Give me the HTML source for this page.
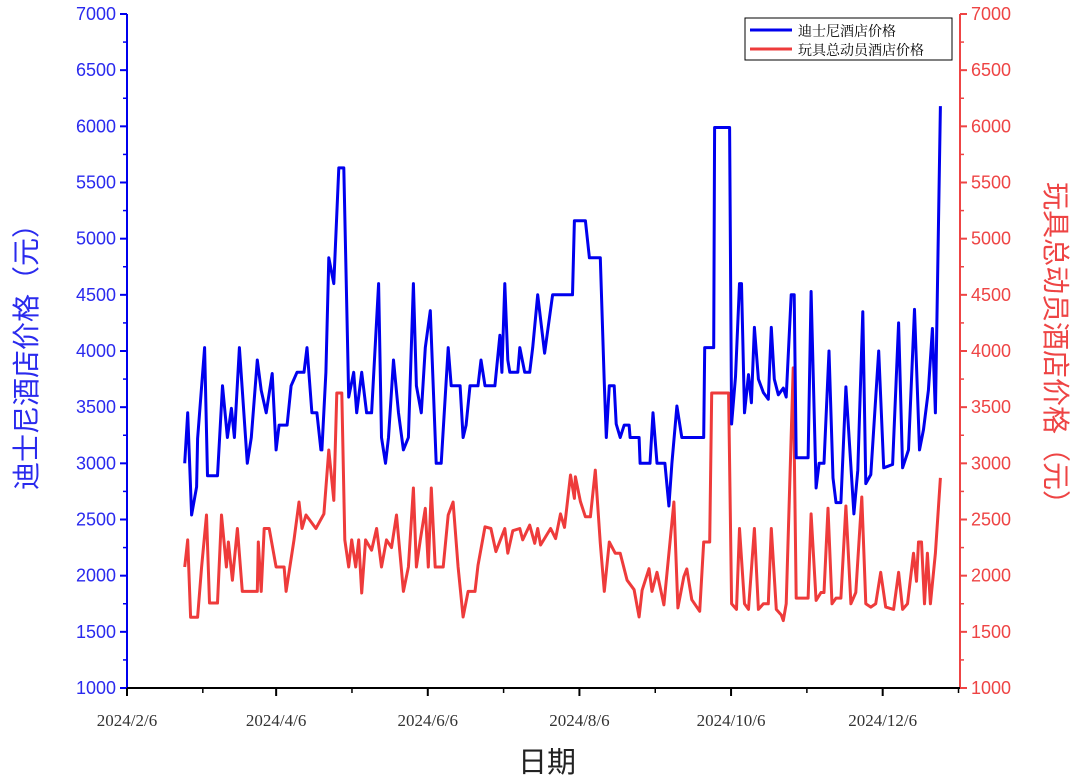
<!DOCTYPE html>
<html><head><meta charset="utf-8"><style>
html,body{margin:0;padding:0;background:#fff;width:1080px;height:781px;overflow:hidden}
svg{display:block}
</style></head><body>
<svg id="chart" width="1080" height="781" xmlns="http://www.w3.org/2000/svg" font-family="'Liberation Serif','Noto Serif CJK SC',serif">
<g id="axes"></g>
<g id="series"></g>
<g>
<rect x="745" y="18" width="207" height="42" fill="#fff" stroke="#000" stroke-width="1"/>
<line x1="750" y1="30" x2="792" y2="30" stroke="#0000ee" stroke-width="3"/>
<text x="798" y="36" font-size="14" fill="#000">迪士尼酒店价格</text>
<line x1="750" y1="49" x2="792" y2="49" stroke="#ee3b3b" stroke-width="3"/>
<text x="798" y="55" font-size="14" fill="#000">玩具总动员酒店价格</text>
</g>
<text x="547" y="772" font-size="29" text-anchor="middle" font-family="'Liberation Sans','Noto Sans CJK SC',sans-serif" fill="#222">日期</text>
<text transform="translate(36,350) rotate(-90)" font-size="28" text-anchor="middle" font-family="'Liberation Sans','Noto Sans CJK SC',sans-serif" fill="#2a2aee">迪士尼酒店价格（元）</text>
<text transform="translate(1046,350) rotate(90)" font-size="28" text-anchor="middle" font-family="'Liberation Sans','Noto Sans CJK SC',sans-serif" fill="#ee4444">玩具总动员酒店价格（元）</text>
</svg>
<script>
const yTicks=[1000,1500,2000,2500,3000,3500,4000,4500,5000,5500,6000,6500,7000];
const xTickLabels=["2024/2/6","2024/4/6","2024/6/6","2024/8/6","2024/10/6","2024/12/6"];
const xTickDays=[0,60,121,182,243,304];
const blueDays=[23.2,24.4,26,28,28.4,31.2,32.4,36.4,38.4,40.4,42,43.2,45.2,48.4,50,52.4,54,56,58.4,60,61.2,64.4,66,68.4,71.2,72.4,74.4,76.4,78,78.4,80,81.2,83.2,85.2,87.2,89.2,91.2,92.4,94.4,96.4,98.4,101.2,102.4,104,105.2,107.2,109.2,111.2,113.2,115.2,116.4,118.4,120,122,124.4,126.4,129.2,130.4,134,135.2,136.4,138,141.2,142.4,144,148,150,150.8,152,153.2,154,157.2,158,160,162,163.2,165.2,168,171.2,179.2,180,184.4,186,190.4,192,192.8,194,196,196.8,198.4,200,202,202.4,206,206.4,210.4,211.6,213.2,216.4,218,219.2,221.2,223.2,232,232.4,236,236.4,242.4,243.2,244.8,246.4,247.2,248.4,250,251.2,252.4,254,256,258,259.2,260.4,262,264,265.2,267.2,268.4,269.2,274,275.2,277.2,278.4,280.4,282.4,284,285.2,287.2,289.2,292.4,294,296,297.2,299.2,302.4,304.4,308,310.4,312,314.4,316.8,318.8,320.4,322.4,324,325.2,327.2];
const blueVals=[3000,3450,2540,2790,3220,4030,2890,2890,3690,3230,3490,3230,4030,3000,3230,3920,3650,3450,3800,3120,3340,3340,3690,3810,3810,4030,3450,3450,3120,3120,3810,4830,4600,5630,5630,3590,3810,3450,3810,3450,3450,4600,3230,3000,3230,3920,3450,3120,3230,4600,3690,3450,4030,4360,3000,3000,4030,3690,3690,3230,3340,3690,3690,3920,3690,3690,4140,3810,4600,3920,3810,3810,4030,3810,3810,4030,4500,3980,4500,4500,5160,5160,4830,4830,3710,3230,3690,3690,3350,3230,3340,3340,3230,3230,3000,3000,3450,3000,3000,2620,3000,3510,3230,3230,4030,4030,5990,5990,3350,3770,4600,4600,3450,3790,3540,4210,3750,3630,3570,4210,3750,3610,3670,3590,4500,4500,3050,3050,4530,2780,3000,3000,4000,2870,2650,2650,3680,2550,2940,4350,2820,2900,4000,2960,2990,4250,2960,3120,4370,3120,3300,3650,4200,3450,6180];
const redDays=[23.2,24.4,25.6,28.4,30,32,33.2,36.4,38,40,40.8,42.4,44.4,46.4,52.4,52.8,54,55.2,57.2,60,63.2,64,67.2,69.2,70.4,72,76,79.2,81.2,83.2,84.4,86.4,87.6,89.2,90.4,92,93.2,94.4,96,98.4,100.4,102.4,104.4,106.4,108.4,111.2,113.2,115.2,116.4,118,120,121.2,122.4,124,127.2,129.2,131.2,133.2,135.2,137.2,140,141.2,144,146.4,148.4,152,153.2,155.2,158,159.2,162,164,165.2,166.4,170.4,172.4,174.4,176,178.4,180,180.4,182.4,184.4,186.4,188.4,190.4,192,194,196.4,198.4,201.2,204,206,207.2,210,211.2,213.2,216,220,221.6,224,225.2,227.2,230.4,232,234.4,235.2,242,243.2,245.2,246.4,248.4,250,252.4,254,256,258,259.2,261.2,263.2,264,265.2,268,269.2,274,275.2,277.2,279.2,280.4,282,283.6,285.2,287.2,289.2,291.2,293.2,295.6,297.2,299.2,301.2,303.2,305.2,308.4,310.4,312,314,316.4,317.6,318.4,319.6,320.8,322,323.2,325.2,327.2];
const redVals=[2077,2318,1630,1630,2077,2540,1757,1757,2540,2077,2300,1960,2420,1860,1860,2300,1860,2420,2420,2077,2077,1860,2318,2656,2420,2540,2420,2550,3119,2670,3626,3626,2318,2077,2318,2077,2318,1846,2318,2227,2420,2077,2318,2250,2540,1860,2077,2780,2077,2318,2600,2077,2780,2077,2077,2540,2656,2077,1632,1860,1860,2092,2435,2420,2214,2420,2200,2400,2420,2318,2450,2288,2420,2273,2420,2330,2550,2430,2896,2688,2880,2660,2524,2524,2940,2288,1860,2300,2200,2200,1960,1875,1632,1870,2062,1860,2030,1740,2656,1713,1990,2060,1786,1683,2300,2300,3626,3626,1750,1700,2420,1750,1700,2420,1700,1750,1750,2420,1700,1650,1600,1750,3850,1800,1800,2550,1780,1850,1850,2600,1750,1800,1800,2620,1750,1850,2700,1750,1720,1750,2030,1720,1700,2030,1700,1750,2200,1950,2300,2300,1750,2200,1750,2200,2870];

const L=127,R=960,T=14,B=688,ymin=1000,ymax=7000,dmax=335.1;
const sx=d=>L+(d/dmax)*(R-L);
const sy=v=>B-(v-ymin)/(ymax-ymin)*(B-T);
const NS="http://www.w3.org/2000/svg";
function mk(tag,attrs,parent){const e=document.createElementNS(NS,tag);for(const k in attrs)e.setAttribute(k,attrs[k]);parent.appendChild(e);return e;}
const ax=document.getElementById('axes');
let e;
e=mk('line',{x1:L,y1:T,x2:L,y2:B,stroke:'#0000ee','stroke-width':2},ax);


e=mk('line',{x1:R,y1:T,x2:R,y2:B,stroke:'#ee4444','stroke-width':2},ax);


e=mk('line',{x1:L,y1:B,x2:R,y2:B,stroke:'#000','stroke-width':2},ax);


yTicks.forEach((v,i)=>{
  const y=sy(v);
  mk('line',{x1:L-7,y1:y,x2:L,y2:y,stroke:'#0000ee','stroke-width':2},ax);
  mk('line',{x1:R,y1:y,x2:R+7,y2:y,stroke:'#ee4444','stroke-width':2},ax);
  if(i<yTicks.length-1){const ym=sy(v+250);
    mk('line',{x1:L-4,y1:ym,x2:L,y2:ym,stroke:'#0000ee','stroke-width':1.5},ax);
    mk('line',{x1:R,y1:ym,x2:R+4,y2:ym,stroke:'#ee4444','stroke-width':1.5},ax);}
  let t=mk('text',{x:L-11,y:y+6,'font-size':18,'text-anchor':'end',fill:'#2a2aee','font-family':"'Liberation Sans',sans-serif"},ax);
  t.textContent=v;
  
  
  t=mk('text',{x:R+11,y:y+6,'font-size':18,'text-anchor':'start',fill:'#ee4444','font-family':"'Liberation Sans',sans-serif"},ax);
  t.textContent=v;
  
  
});
xTickDays.forEach((d,i)=>{
  const x=sx(d);
  mk('line',{x1:x,y1:B,x2:x,y2:B+8,stroke:'#000','stroke-width':2},ax);
  const xm=sx(d+30.5);
  if(xm<R) mk('line',{x1:xm,y1:B,x2:xm,y2:B+5,stroke:'#000','stroke-width':1.5},ax);
  const t=mk('text',{x:x,y:726,'font-size':17,'text-anchor':'middle',fill:'#333'},ax);
  t.textContent=xTickLabels[i];
  
  
});
const sg=document.getElementById('series');
function line(days,vals,color,name){
  const pts=days.map((d,i)=>sx(d).toFixed(1)+','+sy(vals[i]).toFixed(1)).join(' ');
  const p=mk('polyline',{points:pts,fill:'none',stroke:color,'stroke-width':3,'stroke-linejoin':'round'},sg);
  
  
}
line(redDays,redVals,'#ee3b3b','toystory-price-line');
line(blueDays,blueVals,'#0000ee','disney-price-line');
</script>
</body></html>
